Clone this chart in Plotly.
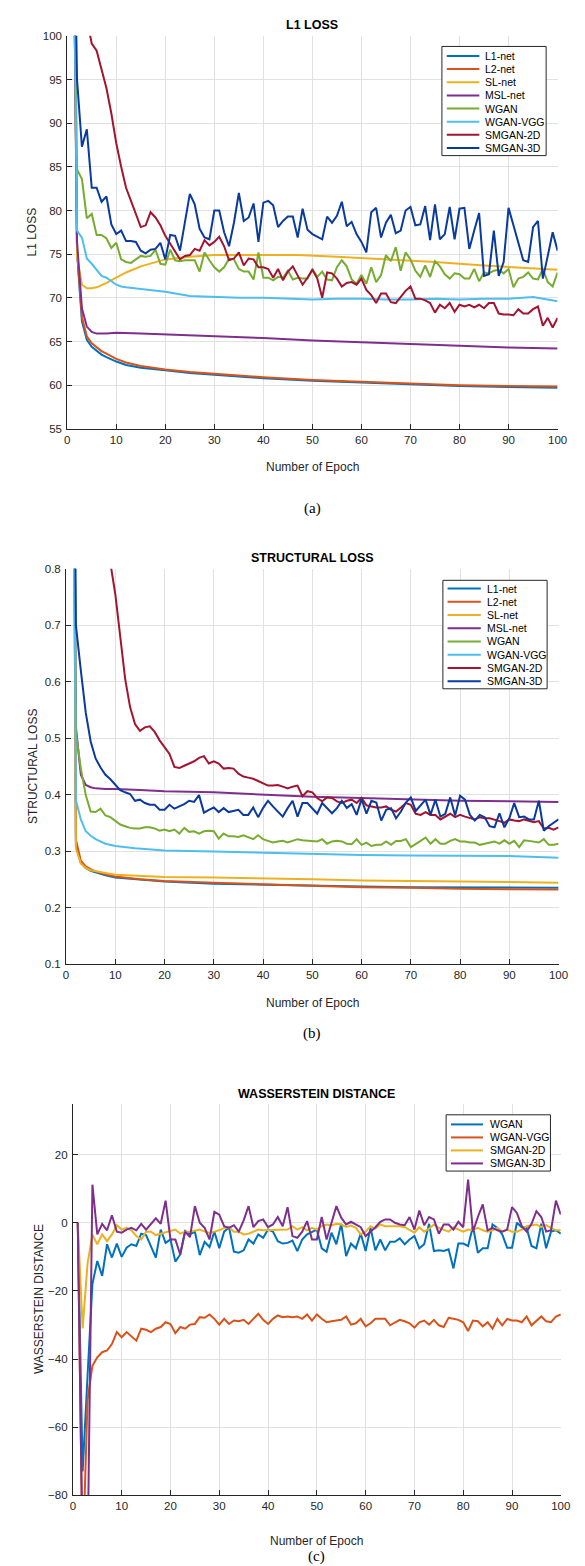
import plotly.graph_objects as go

W, H = 585, 1566
FONT = "Liberation Sans, Arial, Helvetica, sans-serif"
SERIF = "Liberation Serif, Times New Roman, serif"
INK = "#262626"
GRID = "#e1e1e1"

EPOCHS = list(range(1, 101))

# ---------------- (a) L1 LOSS ----------------
L1_NAMES = ["L1-net", "L2-net", "SL-net", "MSL-net", "WGAN", "WGAN-VGG", "SMGAN-2D", "SMGAN-3D"]
L1_COLORS = ["#0072BD", "#D95319", "#EDB120", "#7E2F8E", "#77AC30", "#4DBEEE", "#A2142F", "#0A3A9E"]

A_EP_NET = [1, 2, 3, 4, 5, 6, 7, 8, 10, 12, 15, 20, 25, 30, 40, 50, 60, 70, 80, 90, 100]
A_L1NET = [130, 75.2, 67.3, 65.2, 64.4, 63.9, 63.5, 63.2, 62.7, 62.3, 62.0, 61.7, 61.4, 61.2, 60.8, 60.5, 60.3, 60.1, 59.9, 59.8, 59.7]
A_L2NET = [130, 75.5, 67.8, 65.6, 64.8, 64.3, 63.9, 63.6, 63.0, 62.6, 62.2, 61.8, 61.5, 61.3, 60.9, 60.6, 60.4, 60.2, 60.0, 59.9, 59.85]

A_EP_SL = [1, 2, 3, 4, 5, 6, 8, 10, 12, 15, 18, 20, 25, 30, 40, 47, 55, 65, 75, 85, 92, 100]
A_SLNET = [130, 74.7, 71.5, 71.1, 71.1, 71.2, 71.7, 72.3, 72.9, 73.6, 74.1, 74.4, 74.7, 74.9, 74.9, 74.9, 74.7, 74.4, 74.1, 73.7, 73.5, 73.2]

A_EP_MSL = [1, 2, 3, 4, 5, 6, 8, 10, 15, 20, 30, 40, 50, 60, 70, 80, 90, 100]
A_MSLNET = [130, 76.4, 68.8, 66.7, 66.1, 65.9, 65.9, 66.0, 65.9, 65.8, 65.6, 65.4, 65.1, 64.9, 64.7, 64.5, 64.3, 64.2]

A_EP_VGG = [1, 2, 3, 4, 5, 6, 7, 8, 9, 10, 11, 12, 15, 20, 25, 30, 35, 40, 45, 50, 55, 60, 65, 70, 75, 80, 85, 90, 95, 100]
A_WGANVGG = [130, 77.7, 76.9, 74.5, 73.9, 73.2, 72.5, 72.3, 71.9, 71.5, 71.3, 71.2, 71.0, 70.7, 70.2, 70.1, 70.0, 70.0,
             69.9, 69.8, 69.9, 69.9, 69.8, 69.8, 69.9, 69.8, 69.9, 69.9, 70.1, 69.6]

A_WGAN = [130, 84.7, 83.6, 79.1, 79.6, 77.2, 77.2, 76.8, 75.7, 76.3,
          74.4, 74.1, 74.0, 74.4, 74.8, 74.7, 74.8, 75.5, 73.9, 73.8,
          75.5, 74.3, 74.2, 74.3, 74.3, 74.3, 73.0, 75.2, 74.3, 73.5,
          73.0, 73.5, 74.5, 74.4, 73.3, 73.0, 73.0, 72.1, 75.2, 72.3,
          72.3, 72.0, 72.4, 72.3, 73.1, 72.1, 72.3, 72.2, 72.2, 73.3,
          72.4, 73.0, 72.1, 72.0, 73.5, 74.3, 73.6, 72.1, 71.6, 72.6,
          71.6, 73.5, 71.8, 72.6, 74.9, 74.2, 75.8, 73.1, 75.2, 74.4,
          73.1, 72.4, 73.7, 72.4, 74.2, 73.6, 72.7, 72.2, 72.8, 72.7,
          72.2, 72.2, 73.3, 71.9, 72.9, 72.8, 73.1, 73.2, 72.8, 73.3,
          71.2, 72.2, 72.4, 72.9, 72.2, 72.1, 73.3, 71.8, 71.3, 72.9]

A_SMGAN2D = [160, 130, 115, 102, 99.1, 98.3, 96.3, 94.0, 91.1, 87.7,
             85.0, 82.6, 81.1, 79.6, 78.1, 78.3, 79.8, 79.2, 78.3, 77.1,
             76.2, 75.2, 74.4, 74.8, 74.9, 75.6, 75.4, 76.6, 76.0, 76.4,
             77.0, 75.9, 74.3, 74.5, 75.2, 73.7, 74.5, 74.4, 73.5, 73.5,
             73.3, 72.3, 73.3, 72.0, 73.0, 73.6, 72.6, 71.5, 72.3, 73.2,
             72.2, 70.0, 72.9, 72.8, 72.2, 71.3, 71.7, 71.8, 71.5, 72.2,
             70.9, 70.3, 69.4, 70.5, 70.5, 69.5, 69.4, 70.1, 70.8, 71.3,
             69.9, 69.9, 69.7, 69.4, 68.3, 69.2, 68.8, 69.4, 68.4, 69.2,
             69.0, 69.2, 68.9, 69.2, 68.8, 69.4, 69.4, 68.2, 68.1, 68.1,
             68.0, 68.7, 68.2, 68.2, 68.7, 69.0, 66.8, 67.7, 66.6, 67.7]

A_SMGAN3D = [130, 95.0, 87.3, 89.3, 82.6, 82.6, 81.0, 81.6, 78.4, 77.3,
             77.7, 76.5, 76.5, 76.4, 75.4, 75.1, 75.5, 75.6, 76.3, 74.4,
             77.2, 77.1, 75.4, 78.6, 81.9, 80.7, 77.9, 76.9, 76.7, 80.0,
             80.0, 77.5, 75.9, 78.6, 82.0, 78.8, 79.2, 80.8, 76.4, 80.9,
             81.1, 80.6, 78.1, 78.8, 79.3, 79.3, 76.9, 80.2, 77.8, 77.3,
             77.0, 76.7, 79.3, 78.6, 79.4, 81.0, 78.2, 78.7, 77.3, 76.4,
             75.2, 79.8, 80.3, 76.9, 78.6, 79.5, 77.4, 77.7, 80.0, 80.4,
             78.3, 78.4, 80.5, 76.6, 80.7, 76.7, 77.3, 80.4, 76.7, 80.2,
             80.3, 75.6, 77.7, 79.7, 72.5, 72.7, 77.7, 72.5, 74.1, 80.3,
             78.3, 76.4, 74.3, 74.1, 78.1, 78.8, 72.2, 74.8, 77.5, 75.4]

# ---------------- (b) STRUCTURAL LOSS ----------------
B_EP_NET = [1, 2, 3, 4, 5, 6, 8, 10, 15, 20, 30, 40, 50, 60, 70, 80, 90, 100]
B_L1NET = [2.0, 0.31, 0.279, 0.270, 0.265, 0.262, 0.257, 0.253, 0.249, 0.246, 0.242, 0.240, 0.238, 0.237, 0.236, 0.236, 0.2355, 0.235]
B_L2NET = [2.0, 0.32, 0.283, 0.273, 0.268, 0.264, 0.259, 0.255, 0.250, 0.247, 0.244, 0.241, 0.238, 0.236, 0.235, 0.233, 0.2325, 0.232]
B_SLNET = [2.0, 0.305, 0.278, 0.270, 0.266, 0.264, 0.261, 0.258, 0.256, 0.254, 0.253, 0.252, 0.250, 0.248, 0.247, 0.246, 0.245, 0.244]
B_MSLNET = [2.0, 0.52, 0.435, 0.417, 0.413, 0.411, 0.410, 0.410, 0.408, 0.406, 0.404, 0.400, 0.396, 0.394, 0.391, 0.389, 0.388, 0.387]

B_EP_VGG = [1, 2, 3, 4, 5, 6, 8, 10, 14, 20, 30, 40, 50, 60, 70, 80, 90, 100]
B_WGANVGG = [2.0, 0.39, 0.356, 0.335, 0.327, 0.321, 0.313, 0.309, 0.305, 0.301, 0.299, 0.297, 0.294, 0.293, 0.292, 0.291, 0.291, 0.288]

B_WGAN = [2.0, 0.51, 0.446, 0.399, 0.370, 0.369, 0.375, 0.363, 0.360, 0.353,
          0.347, 0.344, 0.341, 0.340, 0.340, 0.342, 0.342, 0.340, 0.336, 0.338,
          0.335, 0.338, 0.331, 0.341, 0.334, 0.335, 0.331, 0.335, 0.336, 0.335,
          0.322, 0.331, 0.326, 0.326, 0.325, 0.328, 0.325, 0.321, 0.328, 0.321,
          0.318, 0.315, 0.317, 0.318, 0.315, 0.318, 0.321, 0.319, 0.318, 0.318,
          0.317, 0.321, 0.313, 0.317, 0.318, 0.317, 0.313, 0.312, 0.321, 0.311,
          0.315, 0.309, 0.311, 0.311, 0.317, 0.311, 0.318, 0.318, 0.321, 0.307,
          0.312, 0.318, 0.324, 0.313, 0.321, 0.313, 0.313, 0.318, 0.321, 0.317,
          0.317, 0.315, 0.315, 0.311, 0.313, 0.315, 0.317, 0.313, 0.319, 0.313,
          0.318, 0.307, 0.319, 0.318, 0.317, 0.315, 0.321, 0.311, 0.311, 0.313]

B_SMGAN2D = [1.5, 1.3, 1.2, 1.1, 1.0, 0.95, 0.9, 0.86, 0.81, 0.755,
             0.68, 0.605, 0.555, 0.525, 0.513, 0.519, 0.521, 0.511, 0.496, 0.484,
             0.472, 0.449, 0.447, 0.451, 0.455, 0.459, 0.465, 0.468, 0.455, 0.459,
             0.455, 0.446, 0.447, 0.446, 0.437, 0.432, 0.430, 0.428, 0.424, 0.420,
             0.416, 0.416, 0.417, 0.414, 0.411, 0.414, 0.416, 0.397, 0.406, 0.404,
             0.394, 0.388, 0.395, 0.394, 0.388, 0.385, 0.389, 0.391, 0.385, 0.394,
             0.381, 0.379, 0.377, 0.377, 0.379, 0.373, 0.370, 0.377, 0.385, 0.382,
             0.366, 0.364, 0.369, 0.364, 0.364, 0.356, 0.361, 0.366, 0.360, 0.364,
             0.361, 0.358, 0.356, 0.360, 0.358, 0.358, 0.356, 0.353, 0.350, 0.356,
             0.354, 0.353, 0.356, 0.353, 0.351, 0.353, 0.340, 0.341, 0.338, 0.342]

B_SMGAN3D = [2.0, 0.70, 0.62, 0.545, 0.494, 0.464, 0.448, 0.435, 0.427, 0.417,
             0.408, 0.404, 0.401, 0.389, 0.391, 0.385, 0.382, 0.382, 0.373, 0.373,
             0.382, 0.375, 0.379, 0.383, 0.389, 0.387, 0.399, 0.368, 0.373, 0.377,
             0.369, 0.376, 0.369, 0.371, 0.373, 0.364, 0.364, 0.377, 0.360, 0.376,
             0.389, 0.379, 0.370, 0.361, 0.376, 0.389, 0.361, 0.385, 0.385, 0.376,
             0.366, 0.385, 0.376, 0.367, 0.376, 0.389, 0.376, 0.383, 0.364, 0.392,
             0.366, 0.389, 0.386, 0.354, 0.373, 0.376, 0.358, 0.370, 0.386, 0.395,
             0.371, 0.382, 0.391, 0.364, 0.391, 0.361, 0.366, 0.395, 0.363, 0.398,
             0.391, 0.364, 0.354, 0.364, 0.360, 0.344, 0.342, 0.367, 0.342, 0.358,
             0.385, 0.360, 0.361, 0.356, 0.356, 0.389, 0.336, 0.344, 0.350, 0.356]

# ---------------- (c) WASSERSTEIN DISTANCE ----------------
C_NAMES = ["WGAN", "WGAN-VGG", "SMGAN-2D", "SMGAN-3D"]
C_COLORS = ["#0072BD", "#D95319", "#EDB120", "#7E2F8E"]

C_WGAN = [0, -73, -45, -18, -11.2, -15.6, -6.3, -10.2, -6.1, -10.0,
          -7.3, -6.3, -6.8, -3.2, -3.6, -6.8, -10.2, -2.0, -5.9, -4.9,
          -11.4, -9.3, -2.4, -3.4, -2.6, -9.5, -5.6, -7.1, -2.6, -7.5,
          -2.6, -1.3, -8.5, -8.8, -8.1, -4.9, -6.1, -3.4, -4.4, -2.0,
          -2.6, -5.4, -6.1, -5.9, -5.2, -8.3, -4.9, -3.4, -2.6, -2.0,
          -7.5, -8.5, -2.9, -6.3, -0.3, -9.8, -6.1, -7.5, -3.2, -8.3,
          -1.5, -8.1, -4.9, -8.1, -5.6, -5.6, -4.6, -6.3, -4.9, -3.9,
          -7.5, -6.3, -0.3, -8.3, -8.1, -8.3, -7.8, -13.4, -6.1, -6.1,
          -6.8, -1.0, -8.8, -7.5, -7.5, -0.5, -1.5, -3.4, -7.3, -7.3,
          0.0, -1.3, -1.5, -6.8, -7.5, -0.3, -7.5, -2.6, -2.2, -3.2]

C_WGANVGG = [0, -100, -52, -42, -39.5, -38, -37.5, -35.6, -32.1, -33.6,
             -32.1, -33.4, -34.6, -31.1, -31.4, -32.1, -31.1, -30.6, -29.2, -29.7,
             -32.4, -30.6, -31.1, -29.9, -29.7, -27.7, -27.9, -26.9, -28.2, -29.9,
             -28.2, -29.7, -28.7, -28.9, -28.5, -29.7, -28.2, -26.7, -28.5, -29.7,
             -28.2, -27.2, -27.7, -27.5, -27.7, -27.5, -28.2, -26.9, -28.7, -26.9,
             -28.2, -29.2, -28.9, -28.7, -28.5, -27.5, -29.9, -29.5, -28.2, -30.4,
             -29.5, -28.2, -28.2, -28.2, -30.1, -29.2, -28.5, -28.9, -29.5, -30.8,
             -29.2, -28.7, -29.9, -28.5, -30.1, -30.6, -27.9, -28.2, -28.5, -29.2,
             -31.8, -28.7, -28.9, -30.4, -29.2, -31.1, -28.2, -30.1, -28.2, -28.7,
             -28.7, -29.2, -27.5, -30.1, -28.9, -27.5, -28.9, -29.2, -27.5, -26.9]

C_SMGAN2D = [0, -31, -12, -3.5, -6.3, -3.4, -5.4, -3.4, -0.7, -2.0,
             -1.5, -2.2, -3.9, -4.9, -2.6, -2.6, -3.6, -3.2, -2.6, -2.4,
             -2.0, -3.2, -2.6, -2.6, -2.2, -2.0, -2.6, -2.9, -2.6, -2.2,
             -1.5, -1.3, -2.6, -2.6, -3.4, -3.2, -2.6, -2.0, -2.2, -2.2,
             -2.0, -2.2, -2.2, -2.0, -1.0, -2.0, -1.3, -2.2, -1.5, -2.0,
             -1.0, -0.5, -0.8, -0.3, -0.5, -1.2, -0.8, -1.5, -3.4, -2.6,
             -1.0, -1.7, -0.5, -1.0, -1.0, -1.0, -1.0, -1.3, -2.0, -2.9,
             -1.3, -2.6, -1.7, -0.5, -1.5, -2.0, -2.6, -1.3, -2.0, -2.6,
             -2.0, -2.2, -1.5, -2.2, -2.6, -2.2, -1.5, -2.6, -2.0, -2.6,
             -2.6, -2.0, -1.0, -0.7, -0.5, -1.3, -0.7, -1.5, -2.2, -2.2]

C_SMGAN3D = [0, -100, -100, 11.2, -3.4, -0.3, -2.2, 2.2, -2.6, -2.9,
             -2.0, -1.5, -2.2, -0.3, -2.0, -0.5, 1.3, -0.3, 6.5, -4.9,
             -4.9, -9.3, -2.6, -4.2, 4.9, 0.0, -1.5, -4.9, 3.2, 2.4,
             -1.0, -1.5, -0.7, -2.6, 0.7, 4.9, -1.3, 0.5, 1.0, -1.3,
             -0.5, 1.7, -1.0, 4.6, -3.9, -4.4, -2.6, 0.5, -4.9, -4.9,
             1.7, -4.9, 0.3, 4.9, 1.5, -0.5, 0.3, -0.5, -1.3, -3.9,
             -2.6, -1.3, 0.3, 1.0, 1.0, 0.0, -0.5, -0.7, 1.7, -2.0,
             3.6, -0.7, 1.7, 1.0, -3.2, -0.5, -0.5, -2.0, 0.3, -1.3,
             12.7, -2.6, 1.7, 5.4, -2.2, -1.5, -2.2, -2.6, -2.0, 4.6,
             2.9, -1.0, -2.6, -0.3, 3.4, 1.7, -2.6, -2.2, 6.5, 2.4]

TITLES = ["L1 LOSS", "STRUCTURAL LOSS", "WASSERSTEIN DISTANCE"]
YTITLES = ["L1 LOSS", "STRUCTURAL LOSS", "WASSERSTEIN DISTANCE"]
XTITLE = "Number of Epoch"
CAPTIONS = ["(a)", "(b)", "(c)"]

# ---------------- figure ----------------
def px(x):
    return x / W


def py(y):
    return 1 - y / H


fig = go.Figure()

a_series = [(A_EP_NET, A_L1NET), (A_EP_NET, A_L2NET), (A_EP_SL, A_SLNET), (A_EP_MSL, A_MSLNET),
            (EPOCHS, A_WGAN), (A_EP_VGG, A_WGANVGG), (EPOCHS, A_SMGAN2D), (EPOCHS, A_SMGAN3D)]
b_series = [(B_EP_NET, B_L1NET), (B_EP_NET, B_L2NET), (B_EP_NET, B_SLNET), (B_EP_NET, B_MSLNET),
            (EPOCHS, B_WGAN), (B_EP_VGG, B_WGANVGG), (EPOCHS, B_SMGAN2D), (EPOCHS, B_SMGAN3D)]
c_series = [(EPOCHS, C_WGAN), (EPOCHS, C_WGANVGG), (EPOCHS, C_SMGAN2D), (EPOCHS, C_SMGAN3D)]

for (xs, ys), name, col in zip(a_series, L1_NAMES, L1_COLORS):
    fig.add_trace(go.Scatter(x=xs, y=ys, name=name, mode="lines", line=dict(color=col, width=2),
                             xaxis="x", yaxis="y"))
for (xs, ys), name, col in zip(b_series, L1_NAMES, L1_COLORS):
    fig.add_trace(go.Scatter(x=xs, y=ys, name=name, mode="lines", line=dict(color=col, width=2),
                             xaxis="x2", yaxis="y2"))
for (xs, ys), name, col in zip(c_series, C_NAMES, C_COLORS):
    fig.add_trace(go.Scatter(x=xs, y=ys, name=name, mode="lines", line=dict(color=col, width=2),
                             xaxis="x3", yaxis="y3"))

# axis boxes in pixel coordinates: left, right, top, bottom
BOXES = [(57.5, 559, 22, 418), (56.3, 560, 559, 957.3), (63.3, 562.3, 1098, 1492.7)]

common = dict(showgrid=True, gridcolor=GRID, gridwidth=1, showline=True, linecolor=INK, linewidth=1,
              ticks="inside", ticklen=5, tickcolor=INK, zeroline=False, mirror=False,
              tickfont=dict(family=FONT, size=11.5, color=INK))

for i, (l, r, t, b) in enumerate(BOXES):
    sfx = "" if i == 0 else str(i + 1)
    fig.layout["xaxis" + sfx] = dict(common, domain=[px(l), px(r)], range=[0, 100], dtick=10, tick0=0,
                                     anchor="y" + sfx)
    fig.layout["yaxis" + sfx] = dict(common, domain=[py(b), py(t)], anchor="x" + sfx, ticklabelstandoff=2)

fig.layout.yaxis.update(range=[55, 100], dtick=5, tick0=55)
fig.layout.yaxis2.update(range=[0.1, 0.8], dtick=0.1, tick0=0.1, tickformat=".1f")
fig.layout.yaxis3.update(range=[-80, 35], tickvals=[-80, -60, -40, -20, 0, 20])

ann = []
shapes = []
TITLE_Y = [10.7, 547.7, 1088.3]
YT_X = [21.7, 23.3, 29.3]
XT_Y = [457, 997, 1539]
CAP_Y = [498, 1027, 1554]
for i, (l, r, t, b) in enumerate(BOXES):
    cx = (l + r) / 2
    ann.append(dict(x=px(cx), y=py(TITLE_Y[i]), xref="paper", yref="paper", text="<b>" + TITLES[i] + "</b>",
                    showarrow=False, xanchor="center", yanchor="middle",
                    font=dict(family=FONT, size=12.5, color="#000000")))
    ann.append(dict(x=px(YT_X[i]), y=py((t + b) / 2), xref="paper", yref="paper", text=YTITLES[i],
                    textangle=-90, showarrow=False, xanchor="center", yanchor="middle",
                    font=dict(family=FONT, size=12, color=INK)))
    ann.append(dict(x=px(cx), y=py(XT_Y[i]), xref="paper", yref="paper", text=XTITLE,
                    showarrow=False, xanchor="center", yanchor="middle",
                    font=dict(family=FONT, size=12, color=INK)))
    ann.append(dict(x=px(cx), y=py(CAP_Y[i]), xref="paper", yref="paper", text=CAPTIONS[i],
                    showarrow=False, xanchor="center", yanchor="middle",
                    font=dict(family=SERIF, size=15, color="#000000")))

# legends: box (l, r, t, b), first entry y, step, line x0, x1, text x
LEGENDS = [
    (L1_NAMES, L1_COLORS, (440.7, 547.3, 32.7, 142.7), 42.3, 13.25, 445.7, 479, 483),
    (L1_NAMES, L1_COLORS, (441.7, 548.3, 570.7, 680), 579, 13.33, 446.5, 480.5, 485),
    (C_NAMES, C_COLORS, (445, 551.7, 1109.3, 1166), 1119, 13.1, 450, 482.7, 488.3),
]
for names, cols, (l, r, t, b), y0, step, lx0, lx1, tx in LEGENDS:
    shapes.append(dict(type="rect", xref="paper", yref="paper", x0=px(l), x1=px(r), y0=py(b), y1=py(t),
                       line=dict(color=INK, width=1), fillcolor="white", layer="above"))
    for k, (nm, col) in enumerate(zip(names, cols)):
        yy = y0 + k * step
        shapes.append(dict(type="line", xref="paper", yref="paper", x0=px(lx0), x1=px(lx1), y0=py(yy), y1=py(yy),
                           line=dict(color=col, width=2), layer="above"))
        ann.append(dict(x=px(tx), y=py(yy), xref="paper", yref="paper", text=nm, showarrow=False,
                        xanchor="left", yanchor="middle", font=dict(family=FONT, size=10.5, color="#000000")))

fig.update_layout(width=W, height=H, autosize=False, margin=dict(l=0, r=0, t=0, b=0),
                  paper_bgcolor="white", plot_bgcolor="white", showlegend=False,
                  annotations=ann, shapes=shapes, font=dict(family=FONT))

fig.write_html("out.html")
